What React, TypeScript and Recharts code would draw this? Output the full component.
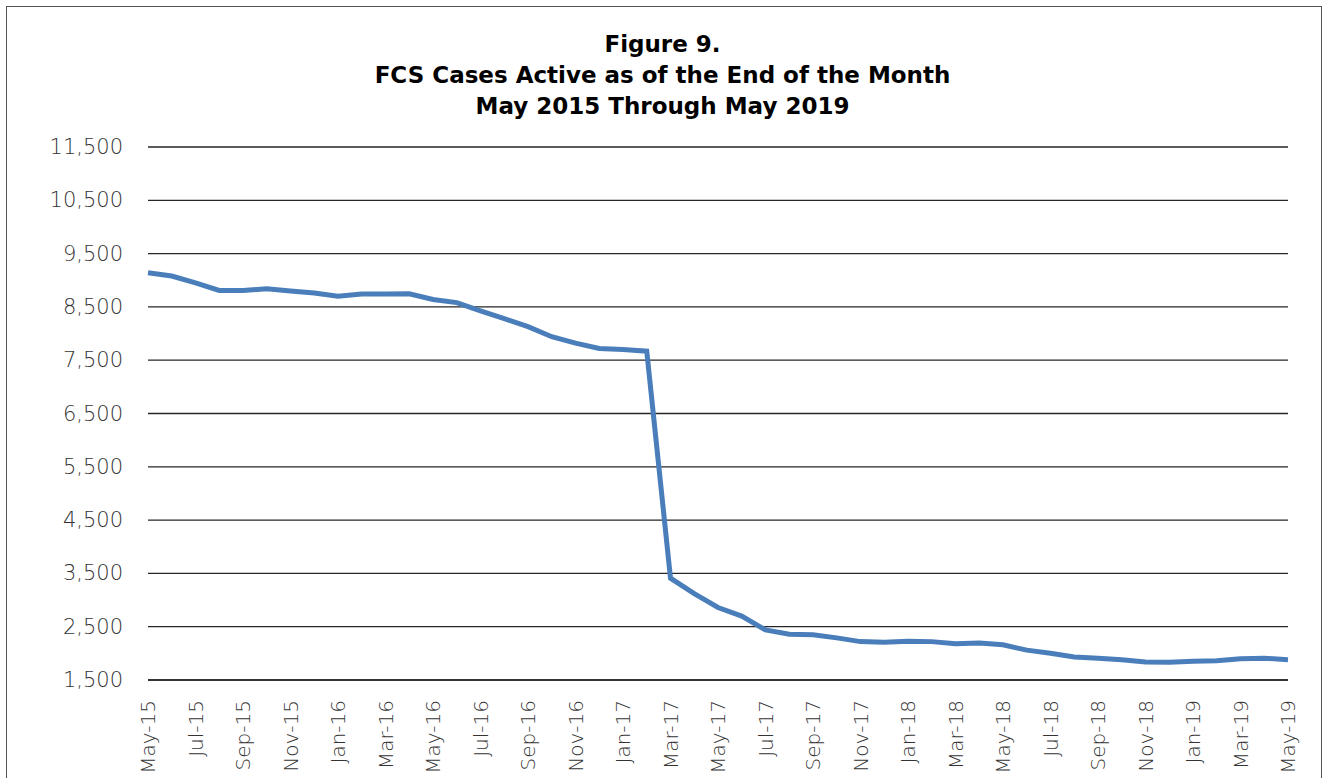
import { CartesianGrid, Line, LineChart, XAxis, YAxis } from "recharts";

const months = [
  "May-15", "Jun-15", "Jul-15", "Aug-15", "Sep-15", "Oct-15", "Nov-15", "Dec-15",
  "Jan-16", "Feb-16", "Mar-16", "Apr-16", "May-16", "Jun-16", "Jul-16", "Aug-16",
  "Sep-16", "Oct-16", "Nov-16", "Dec-16", "Jan-17", "Feb-17", "Mar-17", "Apr-17",
  "May-17", "Jun-17", "Jul-17", "Aug-17", "Sep-17", "Oct-17", "Nov-17", "Dec-17",
  "Jan-18", "Feb-18", "Mar-18", "Apr-18", "May-18", "Jun-18", "Jul-18", "Aug-18",
  "Sep-18", "Oct-18", "Nov-18", "Dec-18", "Jan-19", "Feb-19", "Mar-19", "Apr-19",
  "May-19",
];

const activeCases = [
  9140, 9080, 8950, 8810, 8810, 8840, 8800, 8760,
  8700, 8740, 8740, 8745, 8640, 8580, 8425, 8280,
  8130, 7940, 7820, 7720, 7700, 7670, 3410, 3120,
  2860, 2700, 2440, 2360, 2350, 2290, 2220, 2210,
  2225, 2220, 2180, 2195, 2160, 2060, 2000, 1930,
  1910, 1880, 1840, 1835, 1850, 1860, 1900, 1910,
  1880,
];

const yTicks = [1500, 2500, 3500, 4500, 5500, 6500, 7500, 8500, 9500, 10500, 11500];

const titleLines = [
  "Figure 9.",
  "FCS Cases Active as of the End of the Month",
  "May 2015 Through May 2019",
];

const data = months.map((m, i) => ({ month: m, cases: activeCases[i] }));

const labelFont = "'DejaVu Sans', sans-serif";

function YTick({ x, y, payload }: any) {
  return (
    <text
      x={x - 17}
      y={y}
      textAnchor="end"
      dominantBaseline="central"
      fontFamily={labelFont}
      fontWeight={200}
      fontSize={21}
      fill="#333"
    >
      {payload.value.toLocaleString("en-US")}
    </text>
  );
}

function XTick({ x, y, payload }: any) {
  const ty = y + 12;
  return (
    <text
      x={x}
      y={ty}
      transform={`rotate(-90 ${x} ${ty})`}
      textAnchor="end"
      dominantBaseline="central"
      fontFamily={labelFont}
      fontWeight={200}
      fontSize={20}
      fill="#333"
    >
      {payload.value}
    </text>
  );
}

export default function App() {
  return (
    <div
      style={{
        position: "fixed",
        left: 0,
        top: 0,
        width: 1325,
        height: 778,
        background: "#fff",
        overflow: "hidden",
      }}
    >
      <div
        style={{
          position: "absolute",
          left: 6,
          top: 6,
          width: 1314,
          height: 820,
          border: "1.5px solid #555",
        }}
      />
      <div
        style={{
          position: "absolute",
          left: 0,
          top: 29,
          width: 1325,
          textAlign: "center",
          fontFamily: "'DejaVu Sans', sans-serif",
          fontWeight: 700,
          fontSize: 23,
          lineHeight: "31px",
          color: "#000",
        }}
      >
        {titleLines.map((t) => (
          <div key={t}>{t}</div>
        ))}
      </div>
      <div style={{ position: "absolute", left: 0, top: 0 }}>
        <LineChart
          width={1325}
          height={778}
          data={data}
          margin={{ top: 147, right: 37, bottom: 0, left: 48 }}
        >
          <CartesianGrid vertical={false} stroke="#262626" strokeWidth={1.3} />
          <XAxis
            dataKey="month"
            interval={1}
            height={98}
            tickLine={false}
            axisLine={{ stroke: "#262626", strokeWidth: 1.3 }}
            tick={<XTick />}
          />
          <YAxis
            domain={[1500, 11500]}
            ticks={yTicks}
            width={100}
            tickLine={false}
            axisLine={false}
            tick={<YTick />}
          />
          <Line
            type="linear"
            dataKey="cases"
            stroke="#4a7ebb"
            strokeWidth={5}
            dot={false}
            isAnimationActive={false}
          />
        </LineChart>
      </div>
    </div>
  );
}
